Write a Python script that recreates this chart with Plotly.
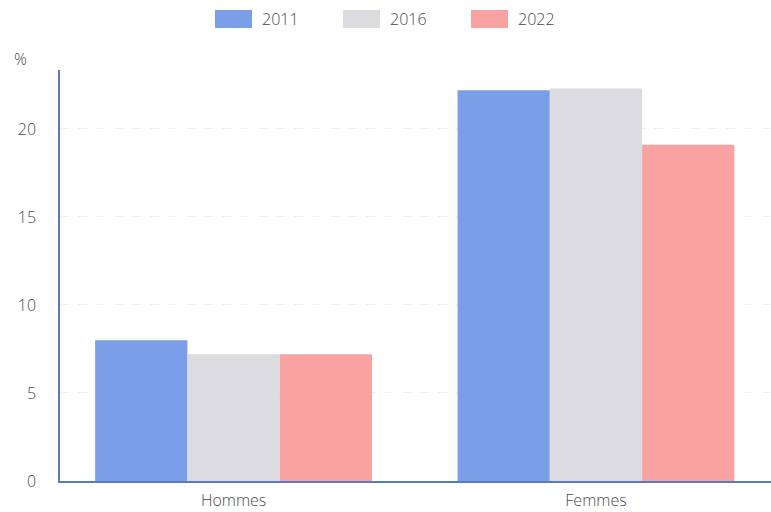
import plotly.graph_objects as go

categories = ["Hommes", "Femmes"]
years = ["2011", "2016", "2022"]
values_2011 = [8.0, 22.2]
values_2016 = [7.2, 22.3]
values_2022 = [7.2, 19.1]
colors = ["#7b9ee8", "#dcdce0", "#f9a2a2"]
series = [values_2011, values_2016, values_2022]

L, T, W, H = 60, 70, 711, 411
FONT = "Open Sans"
TXT = "#4a4a4a"

def px_x(p):
    return (p - L) / W

def px_y(p):
    return (T + H - p) / H

fig = go.Figure()
shapes = []
annotations = []
for i, (name, vals, col) in enumerate(zip(years, series, colors)):
    fig.add_trace(go.Bar(name=name, x=categories, y=vals, showlegend=False,
                         marker=dict(color=col, line=dict(width=0))))
    x0 = 215 + 128 * i
    shapes.append(dict(type="rect", xref="paper", yref="paper",
                       x0=px_x(x0), x1=px_x(x0 + 37), y0=px_y(28), y1=px_y(10),
                       fillcolor=col, line=dict(width=0)))
    annotations.append(dict(text=name, xref="paper", yref="paper", x=px_x(x0 + 45), y=px_y(19),
                            xanchor="left", yanchor="middle", showarrow=False,
                            font=dict(family=FONT, size=16, weight=300, color=TXT)))

annotations.append(dict(text="%", xref="paper", yref="paper", x=0, y=1, xshift=-48, yshift=24,
                        showarrow=False, font=dict(family=FONT, size=16, weight=300, color=TXT)))

axis_col = "#5b7bc0"
tick_font = dict(family=FONT, size=16, weight=300, color=TXT)
fig.update_layout(
    width=771, height=512,
    margin=dict(l=L, r=0, t=T, b=512 - T - H),
    paper_bgcolor="white", plot_bgcolor="white",
    barmode="group", bargap=0.236, bargroupgap=0,
    font=dict(family=FONT, size=16, color=TXT),
    showlegend=False,
    xaxis=dict(range=[-0.479, 1.483], showline=True, linecolor=axis_col, linewidth=1.5,
               ticks="", showgrid=False, tickfont=tick_font, ticklabelstandoff=4),
    yaxis=dict(range=[0, 23.35], showline=True, linecolor=axis_col, linewidth=1.5,
               tickvals=[0, 5, 10, 15, 20], ticks="", gridcolor="#f0f0f0", griddash="dash",
               zeroline=False, tickfont=tick_font, ticklabelstandoff=19),
    shapes=shapes,
    annotations=annotations,
)
fig.write_html("out.html")
